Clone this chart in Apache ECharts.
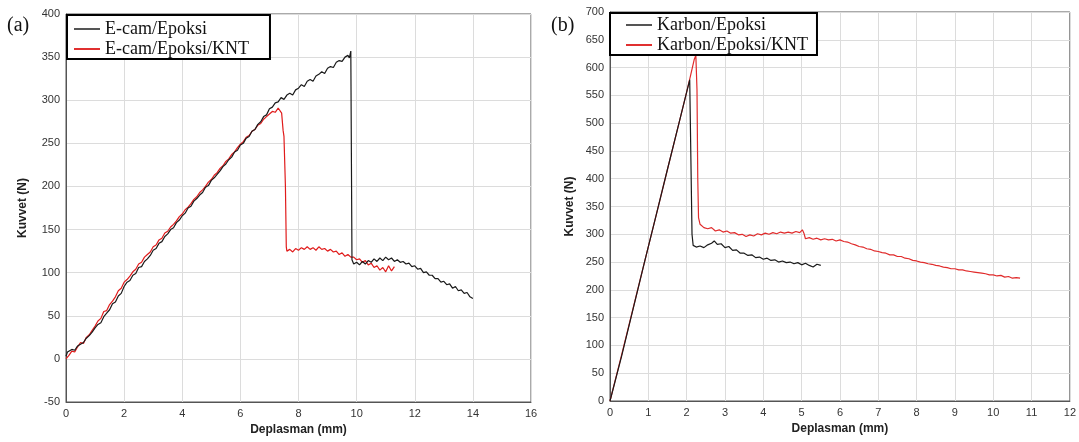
<!DOCTYPE html>
<html><head><meta charset="utf-8">
<script src="https://cdn.jsdelivr.net/npm/echarts@6/dist/echarts.min.js"></script>
<style>html,body{margin:0;padding:0;background:#fff}#c{width:1079px;height:442px}</style>
</head><body><div id="c"></div>
<script>
// Panel (a)
const ecamEpoksi = [[0,3],[0.05,8],[0.1,6],[0.2,11],[0.3,10],[0.4,15],[0.5,17],[0.6,19],[0.7,24],[0.8,27],[0.9,31],[1.0,36],[1.1,40],[1.2,42],[1.3,49],[1.4,53],[1.5,57],[1.6,64],[1.7,66],[1.8,73],[1.9,76],
[2.0,84],[2.1,89],[2.2,91],[2.3,97],[2.4,99],[2.5,106],[2.6,107],[2.7,113],[2.8,116],[2.9,120],[3.0,126],[3.1,128],[3.2,134],[3.3,136],[3.4,142],[3.5,145],[3.6,150],[3.7,152],[3.8,158],[3.9,161],
[4.0,166],[4.1,169],[4.2,175],[4.3,177],[4.4,183],[4.5,186],[4.6,190],[4.7,193],[4.8,199],[4.9,201],[5.0,207],[5.1,210],[5.2,214],[5.3,218],[5.4,223],[5.5,226],[5.6,231],[5.7,234],[5.8,240],[5.9,242],
[6.0,248],[6.1,250],[6.2,256],[6.3,258],[6.4,264],[6.5,266],[6.6,272],[6.7,275],[6.8,281],[6.9,283],[7.0,290],[7.1,292],[7.2,297],[7.3,298],[7.4,303],[7.5,301],[7.6,306],[7.7,308],[7.8,306],[7.9,312],
[8.0,314],[8.1,318],[8.2,316],[8.3,322],[8.4,324],[8.5,322],[8.6,328],[8.7,330],[8.8,333],[8.9,331],[9.0,337],[9.1,339],[9.2,338],[9.3,344],[9.4,346],[9.5,345],[9.6,350],[9.7,352],[9.75,349],[9.8,357],[9.82,356],
[9.84,115],[9.9,110],[10.0,112],[10.1,109],[10.2,113],[10.3,110],[10.4,114],[10.5,112],[10.6,116],[10.7,113],[10.8,117],[10.9,114],[11.0,118],[11.1,115],[11.2,117],[11.3,113],[11.4,115],[11.5,112],[11.6,113],[11.7,110],[11.8,111],[11.9,107],
[12.0,108],[12.1,104],[12.2,105],[12.3,100],[12.4,101],[12.5,97],[12.6,97],[12.7,93],[12.8,93],[12.9,89],[13.0,90],[13.1,86],[13.2,87],[13.3,82],[13.4,84],[13.5,79],[13.6,80],[13.7,76],[13.8,77],[13.9,72],[14.0,70]];
const ecamEpoksiKNT = [[0,0],[0.1,4],[0.2,9],[0.3,8],[0.4,14],[0.5,19],[0.6,18],[0.7,25],[0.8,28],[0.9,33],[1.0,38],[1.1,44],[1.2,47],[1.3,55],[1.4,56],[1.5,63],[1.6,67],[1.7,72],[1.8,79],[1.9,82],
[2.0,89],[2.1,92],[2.2,96],[2.3,101],[2.4,104],[2.5,110],[2.6,112],[2.7,118],[2.8,121],[2.9,124],[3.0,130],[3.1,132],[3.2,138],[3.3,140],[3.4,146],[3.5,148],[3.6,153],[3.7,156],[3.8,160],[3.9,165],
[4.0,168],[4.1,173],[4.2,176],[4.3,180],[4.4,185],[4.5,188],[4.6,193],[4.7,196],[4.8,200],[4.9,205],[5.0,208],[5.1,213],[5.2,216],[5.3,221],[5.4,224],[5.5,229],[5.6,232],[5.7,237],[5.8,240],[5.9,245],
[6.0,249],[6.1,252],[6.2,257],[6.3,259],[6.4,264],[6.5,266],[6.6,271],[6.7,273],[6.8,278],[6.9,281],[7.0,284],[7.1,287],[7.2,286],[7.3,291],[7.35,293],[7.42,285],[7.47,265],[7.5,258],[7.55,200],[7.58,130],
[7.6,125],[7.7,127],[7.8,124],[7.9,128],[8.0,126],[8.1,129],[8.2,127],[8.3,130],[8.4,127],[8.5,129],[8.6,126],[8.7,130],[8.8,127],[8.9,128],[9.0,125],[9.1,127],[9.2,124],[9.3,125],[9.4,121],[9.5,123],
[9.6,119],[9.7,121],[9.8,118],[9.9,118],[10.0,115],[10.1,116],[10.2,112],[10.3,114],[10.4,109],[10.5,111],[10.6,106],[10.7,108],[10.8,103],[10.9,106],[11.0,101],[11.1,108],[11.2,102],[11.3,107]];
// Panel (b)
const karbonEpoksi = [[0,0],[0.3,80],[0.6,165],[0.9,250],[1.2,333],[1.5,417],[1.8,500],[2.0,556],[2.08,578],[2.1,575],[2.14,300],[2.17,280],[2.25,277],[2.35,279],[2.45,276],[2.55,281],[2.65,284],[2.72,288],[2.8,282],[2.9,283],
[3.0,276],[3.1,278],[3.2,271],[3.3,272],[3.4,266],[3.5,266],[3.6,262],[3.7,263],[3.8,258],[3.9,259],[4.0,255],[4.1,257],[4.2,253],[4.3,254],[4.4,250],[4.5,252],[4.6,249],[4.7,250],[4.8,247],[4.9,249],
[5.0,245],[5.1,248],[5.2,244],[5.3,241],[5.4,246],[5.45,249],[5.5,244]];
const karbonEpoksiKNT = [[0,0],[0.3,82],[0.6,166],[0.9,250],[1.2,333],[1.5,417],[1.8,500],[2.0,556],[2.1,585],[2.2,615],[2.24,622],[2.27,560],[2.29,400],[2.31,330],[2.35,318],[2.45,312],[2.55,310],[2.65,312],[2.75,306],[2.85,308],
[2.95,304],[3.05,306],[3.15,302],[3.25,303],[3.35,299],[3.45,300],[3.55,296],[3.65,299],[3.75,297],[3.85,301],[3.95,299],[4.05,302],[4.15,300],[4.25,303],[4.35,301],[4.45,304],[4.55,302],[4.65,304],[4.75,302],[4.85,305],
[4.95,303],[5.02,308],[5.06,302],[5.1,292],[5.2,294],[5.3,291],[5.4,293],[5.5,290],[5.6,292],[5.7,290],[5.8,291],[5.9,288],[6.0,290],[6.1,287],[6.2,286],[6.3,283],[6.4,281],[6.5,278],[6.6,277],[6.7,274],
[6.8,273],[6.9,270],[7.0,269],[7.1,267],[7.2,266],[7.3,263],[7.4,263],[7.5,260],[7.6,260],[7.7,257],[7.8,256],[7.9,253],[8.0,252],[8.1,250],[8.2,249],[8.3,247],[8.4,246],[8.5,244],[8.6,243],[8.7,241],
[8.8,240],[8.9,238],[9.0,238],[9.1,236],[9.2,236],[9.3,234],[9.4,233],[9.5,232],[9.6,231],[9.7,230],[9.8,229],[9.9,227],[10.0,227],[10.1,225],[10.2,226],[10.3,223],[10.4,224],[10.5,221],[10.6,222],[10.65,219],[10.7,221]];
const seriesNamesA = ['E-cam/Epoksi','E-cam/Epoksi/KNT'];
const seriesNamesB = ['Karbon/Epoksi','Karbon/Epoksi/KNT'];
const panelLabels = ['(a)','(b)'];
const xName = 'Deplasman (mm)';
const yName = 'Kuvvet (N)';

const chart = echarts.init(document.getElementById('c'), null, {renderer:'canvas'});
const lab = {fontFamily:'Liberation Sans, Arial, sans-serif', fontSize:11, color:'#333'};
const nameStyle = {fontFamily:'Liberation Sans, Arial, sans-serif', fontSize:12, fontWeight:'bold', color:'#222'};
function xAxis(gi, max, interval){
  return {type:'value', gridIndex:gi, min:0, max:max, interval:interval,
    name:xName, nameLocation:'middle', nameGap:22, nameTextStyle:nameStyle,
    axisLine:{show:true, onZero:false, lineStyle:{color:'#555', width:1}}, axisTick:{show:false},
    axisLabel:Object.assign({margin:6}, lab),
    splitLine:{show:true, lineStyle:{color:'#dcdcdc', width:1}}};
}
function yAxis(gi, min, max, gap){
  return {type:'value', gridIndex:gi, min:min, max:max, interval:50,
    name:yName, nameLocation:'middle', nameGap:gap, nameTextStyle:nameStyle,
    axisLine:{show:true, onZero:false, lineStyle:{color:'#555', width:1}}, axisTick:{show:false},
    axisLabel:Object.assign({margin:6}, lab),
    splitLine:{show:true, lineStyle:{color:'#dcdcdc', width:1}}};
}
const legendBase = {orient:'vertical', borderColor:'#000', borderWidth:2, backgroundColor:'#fff',
  itemGap:2, itemWidth:26, itemHeight:2, icon:'rect',
  textStyle:{fontFamily:'Liberation Serif, Times New Roman, serif', fontSize:18, color:'#111'}};
chart.setOption({
  animation:false,
  backgroundColor:'#fff',
  grid:[
    {left:66, top:14, width:465, height:388, show:true, borderColor:'#555', borderWidth:1},
    {left:610, top:12, width:467, height:389, show:true, borderColor:'#555', borderWidth:1}
  ],
  xAxis:[xAxis(0,16,2), xAxis(1,12,1)],
  yAxis:[yAxis(0,-50,400,37), yAxis(1,0,700,34)],
  legend:[
    Object.assign({}, legendBase, {left:67, top:15, padding:[5,21,1,7], itemTextGap:8, data:seriesNamesA}),
    Object.assign({}, legendBase, {left:610, top:13, padding:[3,9,1,16], itemTextGap:9, data:seriesNamesB})
  ],
  graphic:[
    {type:'text', left:7, top:16, style:{text:panelLabels[0], font:'20px "Liberation Serif", serif', fill:'#111'}},
    {type:'text', left:551, top:16, style:{text:panelLabels[1], font:'20px "Liberation Serif", serif', fill:'#111'}}
  ],
  series:[
    {name:seriesNamesA[0], type:'line', xAxisIndex:0, yAxisIndex:0, data:ecamEpoksi, symbol:'none', lineStyle:{color:'#1a1a1a', width:1.2}, itemStyle:{color:'#555'}, z:3},
    {name:seriesNamesA[1], type:'line', xAxisIndex:0, yAxisIndex:0, data:ecamEpoksiKNT, symbol:'none', lineStyle:{color:'#e01b1b', width:1.2}, itemStyle:{color:'#e03030'}, z:2},
    {name:seriesNamesB[0], type:'line', xAxisIndex:1, yAxisIndex:1, data:karbonEpoksi, symbol:'none', lineStyle:{color:'#1a1a1a', width:1.2}, itemStyle:{color:'#555'}, z:3},
    {name:seriesNamesB[1], type:'line', xAxisIndex:1, yAxisIndex:1, data:karbonEpoksiKNT, symbol:'none', lineStyle:{color:'#e02b2b', width:1.2}, itemStyle:{color:'#e03030'}, z:2}
  ]
});
</script></body></html>
